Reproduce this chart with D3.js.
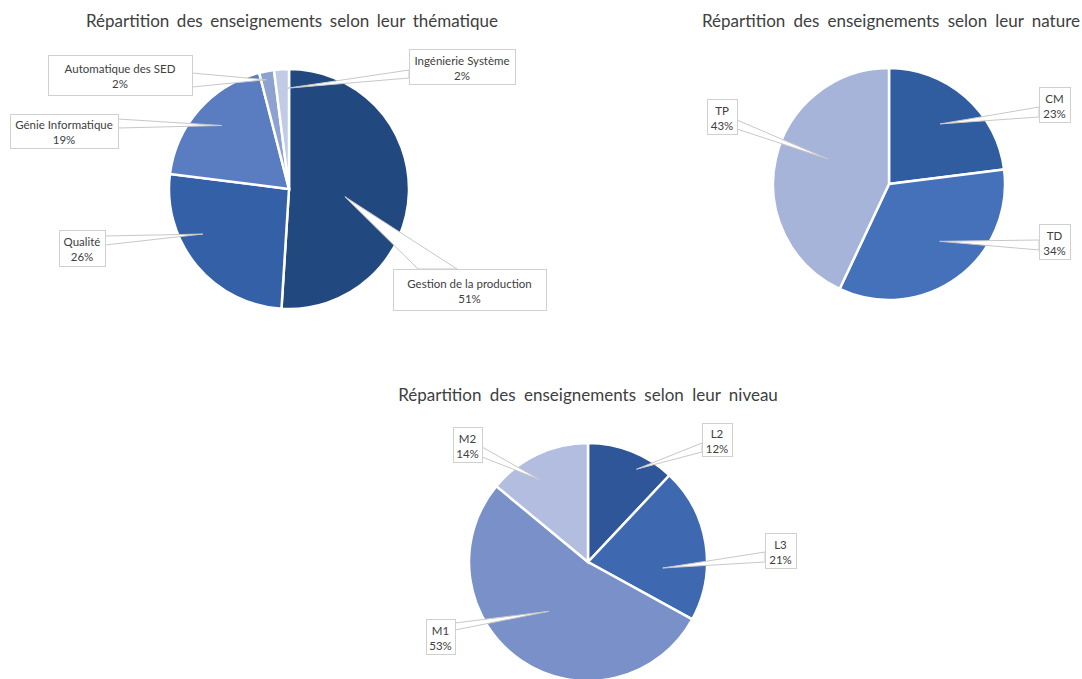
<!DOCTYPE html>
<html>
<head>
<meta charset="utf-8">
<script src="https://cdn.jsdelivr.net/npm/d3@7"></script>
<style>
  body { margin: 0; background: #fff; }
  svg { display: block; font-family: Lato, "Open Sans", sans-serif; }
</style>
</head>
<body>
<svg width="1082" height="679"></svg>
<script>
// data
const themeLabels = ["Gestion de la production", "Qualité", "Génie Informatique", "Automatique des SED", "Ingénierie Système"];
const themeValues = [51, 26, 19, 2, 2];
const themeColors = ["#21497f", "#3360a6", "#5a7cc0", "#8ea2d2", "#c1cbe6"];

const natureLabels = ["CM", "TD", "TP"];
const natureValues = [23, 34, 43];
const natureColors = ["#305ca0", "#4471b9", "#a6b4da"];

const levelLabels = ["L2", "L3", "M1", "M2"];
const levelValues = [12, 21, 53, 14];
const levelColors = ["#2e5698", "#3e69b1", "#7a90c8", "#b2bde0"];

// layout of each chart and its callouts (box, side of the box the leader leaves from, tip)
const charts = [
    {
        title: "Répartition des enseignements selon leur thématique",
        titleX: 292, titleY: 27, titleW: 412,
        cx: 289, cy: 189, r: 120,
        labels: themeLabels, values: themeValues, colors: themeColors,
        callouts: [
            {box: [393, 269, 153, 41], side: "top", base: [418, 457], f: 0.47, shift: 6},
            {box: [59, 230, 46, 36], side: "right", base: [236, 245], f: 0.81, shift: 12},
            {box: [10, 114, 108, 34], side: "right", base: [119, 128], f: 0.77, shift: 2},
            {box: [48, 55, 144, 40], side: "right", base: [73, 87], f: 0.93, shift: -1},
            {box: [409, 49, 106, 35], side: "left", base: [70, 78], f: 0.84, shift: 2.6}
        ]
    },
    {
        title: "Répartition des enseignements selon leur nature",
        titleX: 891, titleY: 27, titleW: 378,
        cx: 889, cy: 184, r: 116,
        labels: natureLabels, values: natureValues, colors: natureColors,
        callouts: [
            {box: [1039, 87, 31, 35], side: "left", base: [107, 117], f: 0.68, shift: -1},
            {box: [1039, 224, 31, 35], side: "left", base: [240, 250], f: 0.66, shift: -5.5},
            {box: [707, 99, 30, 35], side: "right", base: [120, 129], f: 0.57, shift: 9.7}
        ]
    },
    {
        title: "Répartition des enseignements selon leur niveau",
        titleX: 588, titleY: 401, titleW: 383,
        cx: 588, cy: 562, r: 119,
        labels: levelLabels, values: levelValues, colors: levelColors,
        callouts: [
            {box: [702, 423, 30, 33], side: "left", base: [443, 452], f: 0.88, shift: 6},
            {box: [765, 533, 31, 35], side: "left", base: [552, 562], f: 0.63, shift: 13.6},
            {box: [426, 619, 29, 35], side: "right", base: [623, 630], f: 0.53, shift: 4.3},
            {box: [453, 427, 29, 35], side: "right", base: [447, 457], f: 0.8, shift: -5}
        ]
    }
];

const svg = d3.select("svg");

charts.forEach(drawPie);

function drawPie(c) {
    const g = svg.append("g");

    // title: a bit of extra room between words, like the original
    const title = g.append("text")
        .attr("x", c.titleX).attr("y", c.titleY)
        .attr("text-anchor", "middle")
        .style("font-size", "17px").style("fill", "#404040")
        .text(c.title);
    const natural = title.node().getComputedTextLength();
    const gaps = c.title.split(" ").length - 1;
    title.style("word-spacing", Math.max(0, Math.min(4, (c.titleW - natural) / gaps)) + "px");

    const pie = d3.pie().sort(null).value(d => d)(c.values);
    const arc = d3.arc().innerRadius(0).outerRadius(c.r);

    const pg = g.append("g").attr("transform", `translate(${c.cx},${c.cy})`);
    pg.selectAll("path")
        .data(pie)
        .enter().append("path")
        .attr("d", arc)
        .style("fill", (d, i) => c.colors[i])
        .style("stroke", "#fff")
        .style("stroke-width", 2.5);

    // callouts
    pie.forEach((d, i) => {
        const co = c.callouts[i];
        const a = (d.startAngle + d.endAngle) / 2 + co.shift * Math.PI / 180;
        const tip = [c.cx + Math.sin(a) * c.r * co.f, c.cy - Math.cos(a) * c.r * co.f];
        const [bx, by, bw, bh] = co.box;
        let b1, b2;
        if (co.side === "top") { b1 = [co.base[0], by]; b2 = [co.base[1], by]; }
        else if (co.side === "left") { b1 = [bx, co.base[0]]; b2 = [bx, co.base[1]]; }
        else { b1 = [bx + bw, co.base[0]]; b2 = [bx + bw, co.base[1]]; }

        g.append("path")
            .attr("d", d3.line()([b1, tip, b2]) + "Z")
            .style("fill", "#fff")
            .style("stroke", "#c8c8c8")
            .style("stroke-width", 1);

        g.append("rect")
            .attr("x", bx + 0.5).attr("y", by + 0.5)
            .attr("width", bw).attr("height", bh)
            .style("fill", "#fff")
            .style("stroke", "#d0d0d0");

        const t = g.append("text")
            .attr("text-anchor", "middle")
            .style("font-size", "11.5px").style("fill", "#404040");
        t.append("tspan").attr("x", bx + bw / 2).attr("y", by + bh / 2 - 2).text(c.labels[i]);
        t.append("tspan").attr("x", bx + bw / 2).attr("y", by + bh / 2 + 13)
            .text(Math.round(d.value / d3.sum(c.values) * 100) + "%");
    });
}
</script>
</body>
</html>
